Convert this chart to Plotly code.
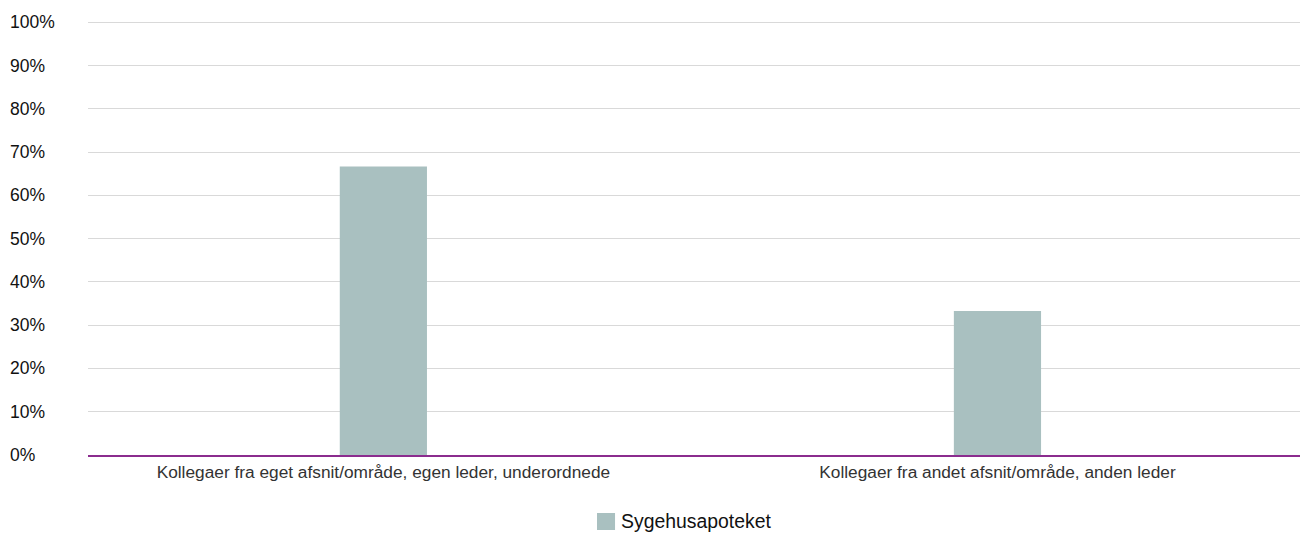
import plotly.graph_objects as go

categories = ["Kollegaer fra eget afsnit/område, egen leder, underordnede",
              "Kollegaer fra andet afsnit/område, anden leder"]
series_name = "Sygehusapoteket"
values = [66.7, 33.3]
y_ticks = [0, 10, 20, 30, 40, 50, 60, 70, 80, 90, 100]
y_tick_labels = [f"{v}%" for v in y_ticks]

FONT = "Liberation Sans, Arial, sans-serif"
BAR_COLOR = "#A9C0C0"

fig = go.Figure()
fig.add_trace(go.Bar(
    x=list(range(len(categories))), y=values, name=series_name,
    marker=dict(color=BAR_COLOR, line=dict(width=0)),
    width=0.142, showlegend=False,
    hovertemplate="%{y:.1f}%<extra></extra>",
))

annotations = []
for v, lab in zip(y_ticks, y_tick_labels):
    annotations.append(dict(xref="paper", yref="y", x=0, y=v, text=lab,
                            showarrow=False, xanchor="left", xshift=-80,
                            font=dict(family=FONT, size=17.5, color="#111")))

# manual legend (larger swatch like the reference)
annotations.append(dict(xref="paper", yref="paper", x=0.4352, y=-0.1532,
                        text=series_name, showarrow=False, xanchor="left",
                        yanchor="middle", font=dict(family=FONT, size=19.4, color="#111")))
shapes = [dict(type="rect", xref="paper", yref="paper",
               x0=0.4172, x1=0.4320, y0=-0.1728, y1=-0.1336,
               fillcolor=BAR_COLOR, line=dict(width=0))]

fig.update_layout(
    width=1300, height=527,
    margin=dict(l=80, r=0, t=13, b=80),
    paper_bgcolor="white", plot_bgcolor="white",
    font=dict(family=FONT, color="#000"),
    annotations=annotations, shapes=shapes,
    xaxis=dict(tickmode="array", tickvals=list(range(len(categories))),
               ticktext=categories, range=[-0.481, 1.5057],
               showline=True, linecolor="#8B2C8E", linewidth=2,
               showgrid=False, ticks="", tickfont=dict(family=FONT, size=17.3, color="#333"),
               fixedrange=True),
    yaxis=dict(range=[0, 100.3], tickvals=y_ticks, showticklabels=False,
               showgrid=True, gridcolor="#D9D9D9", gridwidth=1,
               zeroline=False, fixedrange=True),
    showlegend=False,
)

fig.write_html("out.html")
